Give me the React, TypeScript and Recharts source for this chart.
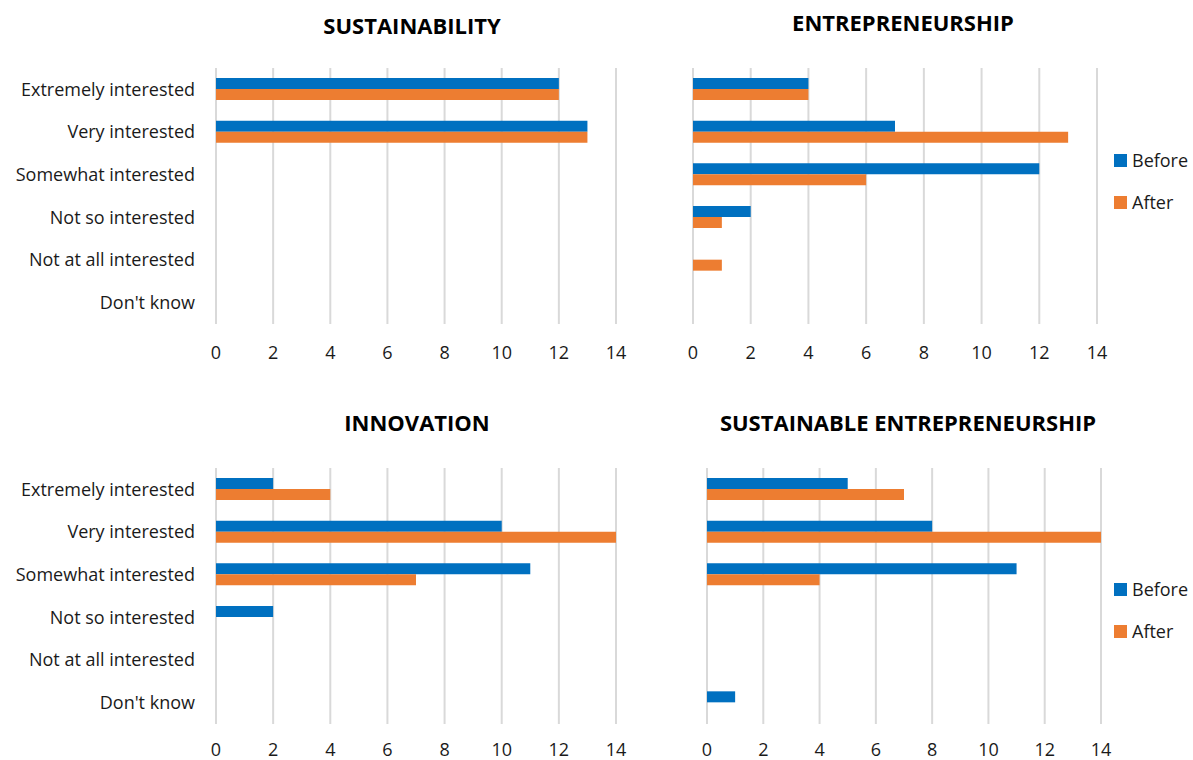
import { BarChart, Bar, XAxis, YAxis, CartesianGrid, Legend } from 'recharts'

const categories = [
    'Extremely interested',
    'Very interested',
    'Somewhat interested',
    'Not so interested',
    'Not at all interested',
    "Don't know",
]

const seriesNames = ['Before', 'After']

const xTicks = [0, 2, 4, 6, 8, 10, 12, 14]

const sustainabilityBefore = [12, 13, 0, 0, 0, 0]
const sustainabilityAfter = [12, 13, 0, 0, 0, 0]

const entrepreneurshipBefore = [4, 7, 12, 2, 0, 0]
const entrepreneurshipAfter = [4, 13, 6, 1, 1, 0]

const innovationBefore = [2, 10, 11, 2, 0, 0]
const innovationAfter = [4, 14, 7, 0, 0, 0]

const sustEntBefore = [5, 8, 11, 0, 0, 1]
const sustEntAfter = [7, 14, 4, 0, 0, 0]

const BLUE = '#0070C0'
const ORANGE = '#ED7D31'
const TEXT = '#1a1a1a'
const FONT = '"Open Sans", Lato, sans-serif'

function buildRows(before: number[], after: number[]) {
    return categories.map((name, i) => ({ name, Before: before[i], After: after[i] }))
}

function LegendBox({ payload }: any) {
    const items = [...(payload ?? [])].sort(
        (a: any, b: any) => seriesNames.indexOf(a.value) - seriesNames.indexOf(b.value)
    )
    return (
        <div style={{ fontFamily: FONT, fontSize: 18, color: TEXT }}>
            {items.map((p: any) => (
                <div key={p.value} style={{ display: 'flex', alignItems: 'center', height: 42 }}>
                    <span style={{ width: 13, height: 13, background: p.color, marginRight: 5, display: 'inline-block' }} />
                    <span>{p.value}</span>
                </div>
            ))}
        </div>
    )
}

interface PanelProps {
    title: string
    titleX: number
    titleY: number
    left: number
    top: number
    width: number
    before: number[]
    after: number[]
    showCategories: boolean
    marginLeft: number
    marginRight: number
    legendPos?: { left: number; top: number }
    tickMargin: number
}

function Panel(props: PanelProps) {
    const data = buildRows(props.before, props.after)
    return (
        <>
            <div
                style={{
                    position: 'absolute',
                    left: props.titleX - 250,
                    top: props.titleY - 15,
                    width: 500,
                    textAlign: 'center',
                    fontFamily: FONT,
                    fontWeight: 700,
                    fontSize: 22,
                    lineHeight: '30px',
                    color: '#000',
                }}
            >
                {props.title}
            </div>
            <div style={{ position: 'absolute', left: props.left, top: props.top }}>
                <BarChart
                    layout="vertical"
                    width={props.width}
                    height={364}
                    data={data}
                    margin={{ top: 68, right: props.marginRight, bottom: 0, left: props.marginLeft }}
                    barGap={0}
                    barCategoryGap={20}
                >
                    <CartesianGrid horizontal={false} stroke="#d9d9d9" strokeWidth={2} />
                    <XAxis
                        type="number"
                        domain={[0, 14]}
                        ticks={xTicks}
                        axisLine={false}
                        tickLine={false}
                        tickSize={0}
                        tickMargin={props.tickMargin}
                        height={40}
                        tick={{ fill: TEXT, fontSize: 18, fontFamily: FONT }}
                        interval={0}
                    />
                    <YAxis
                        type="category"
                        dataKey="name"
                        hide={!props.showCategories}
                        width={props.showCategories ? 216 : 0}
                        axisLine={false}
                        tickLine={false}
                        tickSize={0}
                        tickMargin={21}
                        interval={0}
                        tick={{ fill: TEXT, fontSize: 18, fontFamily: FONT }}
                    />
                    {props.legendPos && (
                        <Legend
                            layout="vertical"
                            align="right"
                            verticalAlign="top"
                            content={<LegendBox />}
                            wrapperStyle={{ left: props.legendPos.left, top: props.legendPos.top, width: 80 }}
                        />
                    )}
                    <Bar dataKey="Before" fill={BLUE} barSize={11} isAnimationActive={false} />
                    <Bar dataKey="After" fill={ORANGE} barSize={11} isAnimationActive={false} />
                </BarChart>
            </div>
        </>
    )
}

export default function App() {
    return (
        <div style={{ position: 'absolute', left: 0, top: 0, width: 1193, height: 760, background: '#fff', overflow: 'hidden' }}>
            <Panel
                title="SUSTAINABILITY"
                titleX={412}
                titleY={25}
                left={0}
                top={0}
                width={640}
                before={sustainabilityBefore}
                after={sustainabilityAfter}
                showCategories
                marginLeft={0}
                marginRight={24}
                tickMargin={22}
            />
            <Panel
                title="ENTREPRENEURSHIP"
                titleX={903}
                titleY={22}
                left={640}
                top={0}
                width={553}
                before={entrepreneurshipBefore}
                after={entrepreneurshipAfter}
                showCategories={false}
                marginLeft={53}
                marginRight={16}
                legendPos={{ left: 474, top: 139 }}
                tickMargin={22}
            />
            <Panel
                title="INNOVATION"
                titleX={417}
                titleY={422}
                left={0}
                top={400}
                width={640}
                before={innovationBefore}
                after={innovationAfter}
                showCategories
                marginLeft={0}
                marginRight={24}
                tickMargin={19}
            />
            <Panel
                title="SUSTAINABLE ENTREPRENEURSHIP"
                titleX={908}
                titleY={422}
                left={640}
                top={400}
                width={553}
                before={sustEntBefore}
                after={sustEntAfter}
                showCategories={false}
                marginLeft={67}
                marginRight={12}
                legendPos={{ left: 474, top: 168 }}
                tickMargin={19}
            />
        </div>
    )
}
